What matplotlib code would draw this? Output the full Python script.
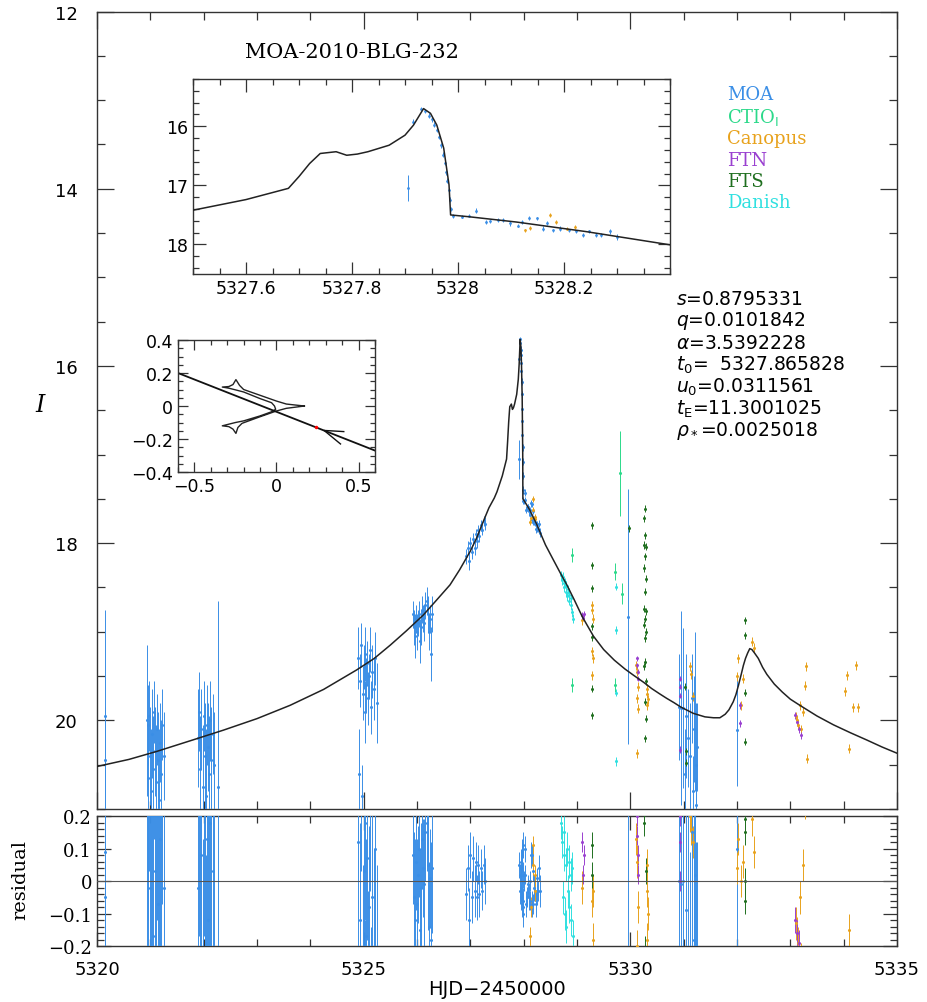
import matplotlib
matplotlib.use("Agg")
import matplotlib.pyplot as plt
from matplotlib.ticker import MultipleLocator

## Model light curve (HJD-2450000, I mag)
model_t = [5320.00, 5320.60, 5321.12, 5321.80, 5322.37, 5323.00, 5323.62, 5324.25,
           5324.87, 5325.20, 5325.50, 5325.80, 5326.12, 5326.40, 5326.62, 5326.80,
           5327.00, 5327.12, 5327.24, 5327.35, 5327.45, 5327.50,
           5327.60, 5327.68, 5327.70, 5327.72, 5327.74, 5327.77, 5327.79, 5327.81,
           5327.83, 5327.87, 5327.90, 5327.916, 5327.935, 5327.948, 5327.96, 5327.973,
           5327.983, 5327.986, 5328.02, 5328.11, 5328.24, 5328.41, 5328.55, 5328.70,
           5328.81, 5328.95, 5329.10, 5329.31, 5329.50, 5329.70, 5329.90, 5330.06,
           5330.25, 5330.40, 5330.55, 5330.68, 5330.82, 5330.95, 5331.18, 5331.40,
           5331.56, 5331.68, 5331.78, 5331.85, 5331.93, 5331.98, 5332.03, 5332.08,
           5332.12, 5332.16, 5332.20, 5332.24, 5332.28, 5332.33, 5332.40, 5332.48,
           5332.56, 5332.70, 5332.85, 5333.00, 5333.18, 5333.50, 5333.81,
           5334.13, 5334.43, 5334.72, 5335.00]
model_mag = [20.52, 20.44, 20.35, 20.22, 20.11, 19.98, 19.83, 19.65,
             19.43, 19.30, 19.15, 18.99, 18.81, 18.62, 18.47, 18.30,
             18.09, 17.94, 17.76, 17.60, 17.49, 17.42,
             17.24, 17.05, 16.85, 16.63, 16.46, 16.43, 16.49, 16.47,
             16.43, 16.32, 16.15, 15.98, 15.70, 15.78, 15.98, 16.37,
             16.99, 17.50, 17.53, 17.62, 17.78, 18.02, 18.18, 18.35,
             18.47, 18.64, 18.83, 19.05, 19.20, 19.32, 19.42, 19.49,
             19.57, 19.64, 19.70, 19.75, 19.80, 19.85, 19.92, 19.96,
             19.97, 19.97, 19.93, 19.88, 19.79, 19.71, 19.60, 19.48,
             19.38, 19.30, 19.24, 19.19, 19.20, 19.24, 19.30, 19.40,
             19.48, 19.59, 19.68, 19.76, 19.83, 19.95, 20.05,
             20.14, 20.22, 20.30, 20.37]

## MOA
moa_t = [5320.15, 5320.15,
         5320.93, 5320.95, 5320.96, 5320.98, 5321.00, 5321.02, 5321.03, 5321.05, 5321.07,
         5321.09, 5321.10, 5321.12, 5321.14, 5321.16, 5321.18, 5321.20, 5321.22, 5321.25,
         5321.90, 5321.92, 5321.94, 5321.96, 5321.98, 5322.00, 5322.02, 5322.04,
         5322.06, 5322.08, 5322.10, 5322.12, 5322.14, 5322.17, 5322.20, 5322.27,
         5324.90, 5324.92, 5324.93, 5324.95, 5324.97, 5324.98, 5325.00, 5325.02, 5325.03, 5325.05,
         5325.07, 5325.08, 5325.10, 5325.12, 5325.14, 5325.16, 5325.19, 5325.22, 5325.26,
         5325.92, 5325.94, 5325.96, 5325.98, 5326.00, 5326.02, 5326.04, 5326.06, 5326.08, 5326.10,
         5326.12, 5326.14, 5326.16, 5326.18, 5326.20, 5326.22, 5326.24, 5326.26, 5326.28,
         5326.92, 5326.95, 5326.98, 5327.00, 5327.03, 5327.05, 5327.08, 5327.10,
         5327.12, 5327.15, 5327.17, 5327.20, 5327.22, 5327.25, 5327.28,
         5327.905, 5327.916, 5327.930, 5327.938, 5327.945, 5327.950, 5327.955, 5327.960, 5327.964,
         5327.968, 5327.972, 5327.975, 5327.978, 5327.980, 5327.983, 5327.985, 5327.987, 5327.990,
         5328.008, 5328.020, 5328.034, 5328.053, 5328.060, 5328.075, 5328.085, 5328.098,
         5328.114, 5328.120, 5328.133, 5328.149, 5328.160, 5328.168, 5328.180, 5328.193,
         5328.210, 5328.222, 5328.235, 5328.248, 5328.260, 5328.270, 5328.286, 5328.300,
         5329.96, 5330.92, 5330.96, 5330.98, 5331.02, 5331.05, 5331.09, 5331.12,
         5331.15, 5331.18, 5331.20, 5331.22, 5331.24, 5331.24, 5331.25,
         5332.00]
moa_mag = [19.95, 20.45,
           20.00, 20.05, 20.65, 19.95, 20.40, 20.80, 20.15, 20.55, 19.90,
           20.35, 20.70, 20.10, 20.45, 20.90, 20.25, 20.60, 20.05, 20.40,
           20.20, 19.90, 20.55, 20.10, 20.75, 19.95, 20.40, 20.85,
           20.05, 20.30, 20.60, 20.00, 20.45, 20.15, 20.50, 20.75,
           19.30, 20.60, 19.55, 19.15, 20.85, 19.70, 19.40, 19.25, 19.90, 19.60,
           19.35, 19.75, 19.50, 19.20, 19.85, 19.45, 19.65, 19.30, 19.80,
           18.80, 18.95, 19.05, 18.85, 19.00, 18.90, 18.80, 19.10, 18.95, 18.75,
           18.85, 18.90, 18.70, 18.65, 18.80, 19.00, 18.85, 19.25, 18.80,
           18.15, 18.05, 18.20, 18.00, 18.10, 17.95, 18.05, 17.90,
           17.98, 17.85, 17.92, 17.80, 17.85, 17.75, 17.78,
           17.05, 15.92, 15.70, 15.74, 15.82, 15.88, 15.97, 16.06, 16.18,
           16.32, 16.48, 16.62, 16.78, 16.92, 17.08, 17.24, 17.40, 17.52,
           17.53, 17.51, 17.43, 17.62, 17.61, 17.59, 17.59, 17.64,
           17.68, 17.62, 17.55, 17.56, 17.73, 17.64, 17.76, 17.73,
           17.76, 17.78, 17.84, 17.78, 17.84, 17.84, 17.78, 17.88,
           18.83, 19.85, 19.86, 19.86, 20.60, 19.95, 20.20, 20.40,
           19.75, 20.80, 20.10, 19.90, 20.50, 20.95, 20.30,
           20.11]
moa_err = [1.20, 0.60,
           0.85, 0.45, 0.60, 0.40, 0.55, 0.70, 0.50, 0.60, 0.35,
           0.50, 0.65, 0.40, 0.55, 0.80, 0.45, 0.60, 0.40, 0.50,
           0.55, 0.45, 0.60, 0.45, 0.70, 0.40, 0.60, 0.75,
           0.45, 0.50, 0.65, 0.45, 0.60, 0.45, 0.60, 2.10,
           0.35, 0.50, 0.30, 0.25, 0.35, 0.30, 0.25, 0.30, 0.35, 0.30,
           0.25, 0.30, 0.25, 0.25, 0.30, 0.30, 0.35, 0.30, 0.45,
           0.15, 0.20, 0.25, 0.15, 0.20, 0.15, 0.15, 0.25, 0.20, 0.15,
           0.15, 0.20, 0.15, 0.15, 0.20, 0.20, 0.15, 0.30, 0.20,
           0.08, 0.07, 0.10, 0.07, 0.08, 0.07, 0.08, 0.06,
           0.07, 0.06, 0.07, 0.06, 0.06, 0.06, 0.07,
           0.22, 0.04, 0.03, 0.04, 0.04, 0.04, 0.04, 0.04, 0.04,
           0.04, 0.04, 0.04, 0.04, 0.04, 0.04, 0.04, 0.04, 0.04,
           0.03, 0.03, 0.04, 0.04, 0.03, 0.03, 0.03, 0.04,
           0.03, 0.03, 0.04, 0.03, 0.04, 0.03, 0.03, 0.04,
           0.03, 0.03, 0.04, 0.03, 0.03, 0.03, 0.04, 0.05,
           1.44, 0.60, 1.10, 0.90, 0.50, 0.70, 0.55, 0.60,
           0.50, 0.40, 0.60, 0.90, 0.70, 0.30, 0.50,
           0.63]
moa_res = [0.09, -0.05,
           0.38, 0.33, -0.27, 0.43, -0.02, -0.42, 0.23, -0.17, 0.48,
           0.03, -0.32, 0.28, -0.07, -0.52, 0.13, -0.22, 0.33, -0.02,
           -0.02, 0.28, -0.37, 0.08, -0.57, 0.23, -0.22, -0.67,
           0.13, -0.12, -0.42, 0.18, -0.27, 0.03, -0.32, -0.57,
           0.12, -1.15, -0.12, 0.28, -1.40, -0.25, 0.03, 0.18, -0.47, -0.17,
           0.07, -0.33, -0.08, 0.22, -0.44, -0.05, -0.25, 0.10, -0.40,
           0.08, -0.05, -0.12, 0.06, -0.07, 0.02, 0.10, -0.15, -0.02, 0.13,
           0.04, -0.01, 0.15, 0.18, 0.05, -0.14, 0.01, -0.18, 0.04,
           -0.04, 0.04, -0.12, 0.08, -0.05, 0.07, -0.03, 0.06,
           -0.05, 0.05, -0.04, 0.04, -0.03, 0.05, 0.00,
           -0.95, 0.05, 0.02, -0.03, 0.04, -0.02, 0.06, -0.05, 0.03,
           -0.07, 0.08, -0.04, 0.09, -0.06, 0.02, -0.10, 0.11, -0.08,
           0.00, 0.02, 0.10, -0.07, -0.05, -0.02, -0.01, -0.05,
           -0.06, 0.00, 0.08, 0.08, -0.07, 0.03, -0.07, -0.02,
           -0.03, -0.03, -0.07, 0.01, -0.04, -0.03, 0.04, -0.03,
           0.62, 0.00, -0.01, 0.00, -0.74, -0.09, -0.32, -0.51,
           0.15, -0.89, -0.18, 0.02, -0.58, -1.03, -0.38,
           0.10]

## CTIO (I band)
ctio_t = [5328.90, 5328.90, 5329.71, 5329.71, 5329.81, 5329.84]
ctio_mag = [18.13, 19.60, 18.32, 19.60, 17.21, 18.57]
ctio_err = [0.08, 0.08, 0.10, 0.08, 0.48, 0.12]
ctio_res = [0.42, -1.05, 1.03, -0.30, 2.20, 0.80]

## Canopus
can_t = [5328.127, 5328.135, 5328.174, 5328.184, 5328.206, 5328.220,
         5329.28, 5329.29, 5329.30, 5329.29, 5329.30, 5329.29, 5329.10,
         5330.10, 5330.12, 5330.14, 5330.13, 5330.15, 5330.12,
         5330.31, 5330.32, 5330.33, 5330.31,
         5331.12, 5331.14, 5331.17,
         5332.02, 5332.01, 5332.12, 5332.07, 5332.29, 5332.32,
         5333.10, 5333.15, 5333.20, 5333.18, 5333.30, 5333.28, 5333.31, 5333.13, 5333.23,
         5334.06, 5334.23, 5334.03, 5334.18, 5334.27, 5334.11]
can_mag = [17.76, 17.72, 17.50, 17.62, 17.73, 17.70,
           18.70, 18.75, 18.85, 19.22, 19.30, 19.49, 18.87,
           19.38, 19.45, 19.62, 19.75, 19.87, 20.37,
           19.64, 19.70, 19.76, 19.83,
           19.39, 19.48, 19.73,
           19.30, 19.50, 19.53, 19.83, 19.11, 19.18,
           19.95, 20.05, 20.10, 19.83, 19.39, 19.61, 20.43, 20.00, 19.90,
           19.49, 19.38, 19.67, 19.85, 19.85, 20.32]
can_err = [0.03, 0.03, 0.03, 0.03, 0.03, 0.03,
           0.05, 0.05, 0.05, 0.05, 0.05, 0.05, 0.05,
           0.05, 0.05, 0.05, 0.05, 0.05, 0.05,
           0.05, 0.05, 0.05, 0.05,
           0.05, 0.05, 0.05,
           0.05, 0.05, 0.05, 0.05, 0.05, 0.05,
           0.05, 0.05, 0.05, 0.05, 0.05, 0.05, 0.05, 0.05, 0.05,
           0.05, 0.05, 0.05, 0.05, 0.05, 0.05]
can_res = [-0.17, -0.08, 0.11, 0.05, -0.03, 0.02,
           0.34, 0.29, -0.03, -0.06, -0.18, -0.45, -0.02,
           0.13, 0.06, -0.08, -0.20, -0.32, -0.85,
           0.05, -0.03, -0.10, -0.18,
           0.20, 0.16, 0.12,
           0.13, 0.04, 0.06, 0.00, 0.19, 0.09,
           -0.13, -0.19, -0.24, -0.05, 0.45, 0.24, -0.55, -0.16, 0.05,
           0.62, 0.75, 0.44, 0.28, 0.30, -0.15]

## FTN
ftn_t = [5329.09, 5329.11, 5329.13, 5330.12, 5330.13, 5330.14, 5330.15,
         5330.93, 5330.93, 5330.94, 5330.93, 5332.05, 5332.05,
         5333.08, 5333.12, 5333.16, 5333.20]
ftn_mag = [18.81, 18.84, 18.80, 19.30, 19.38, 19.45, 19.53,
           19.53, 19.62, 19.72, 20.33, 19.83, 20.03,
           19.94, 20.02, 20.10, 20.17]
ftn_err = [0.03, 0.03, 0.03, 0.03, 0.03, 0.03, 0.03,
           0.03, 0.03, 0.03, 0.04, 0.04, 0.04,
           0.04, 0.04, 0.04, 0.04]
ftn_res = [0.12, 0.02, 0.08, 0.20, 0.14, 0.08, 0.02,
           0.20, 0.12, 0.00, -0.48, -0.33, -0.53,
           -0.12, -0.16, -0.19, -0.24]

## FTS
fts_t = [5329.29, 5329.29, 5329.29, 5329.29, 5329.29, 5329.29, 5329.29,
         5329.98,
         5330.27, 5330.26, 5330.28, 5330.25, 5330.30, 5330.27, 5330.26, 5330.29, 5330.27, 5330.25,
         5330.30, 5330.28, 5330.26, 5330.29, 5330.27, 5330.28, 5330.26, 5330.30, 5330.27, 5330.29,
         5330.28,
         5331.03, 5331.05, 5331.05,
         5332.15, 5332.16, 5332.16, 5332.15]
fts_mag = [17.80, 18.25, 18.51, 18.94, 19.06, 19.64, 19.94,
           17.83,
           17.61, 17.72, 17.91, 18.02, 18.04, 18.15, 18.28, 18.40, 18.55, 18.74,
           18.77, 18.85, 18.92, 19.00, 19.07, 19.34, 19.39, 19.56, 19.79, 19.98,
           20.20,
           19.62, 20.35, 20.48,
           18.87, 19.04, 19.69, 20.24]
fts_err = [0.04] * 36
fts_res = [1.24, 0.79, 0.53, 0.11, 0.02, -0.60, -0.90,
           1.60,
           1.97, 1.86, 1.67, 1.56, 1.54, 1.43, 1.30, 1.18, 1.03, 0.84,
           0.81, 0.73, 0.66, 0.58, 0.51, 0.24, 0.18, 0.03, -0.21, -0.40,
           -0.62,
           0.26, -0.47, -0.60,
           0.19, 0.15, 0.00, -0.06]

## Danish
dan_t = [5328.70, 5328.72, 5328.73, 5328.75, 5328.76, 5328.78, 5328.79, 5328.80,
         5328.82, 5328.83, 5328.85, 5328.86, 5328.88, 5328.89, 5328.91, 5328.93,
         5329.73, 5329.74, 5329.74, 5329.74]
dan_mag = [18.36, 18.42, 18.38, 18.45, 18.50, 18.44, 18.55, 18.48,
           18.60, 18.52, 18.65, 18.58, 18.70, 18.62, 18.78, 18.85,
           18.49, 18.98, 19.69, 20.46]
dan_err = [0.05] * 16 + [0.04, 0.04, 0.04, 0.05]
dan_res = [0.18, 0.12, -0.05, 0.08, 0.15, -0.10, 0.05, -0.14,
           0.10, -0.03, 0.06, -0.08, 0.02, -0.12, 0.04, -0.17,
           0.88, 0.39, -0.32, -1.09]

## Caustic / source trajectory (inset, Einstein radius units)
caustic_x = [0.17, 0.06, 0.0, -0.10, -0.20, -0.225, -0.247, -0.265, -0.29, -0.33,
             -0.29, -0.25, -0.20, -0.10, -0.03, -0.012, -0.005, -0.03, -0.10, -0.20,
             -0.25, -0.29, -0.33, -0.29, -0.265, -0.247, -0.235, -0.21, -0.10, 0.0, 0.06, 0.17]
caustic_y = [0.0, 0.012, 0.03, 0.065, 0.10, 0.125, 0.16, 0.13, 0.118, 0.115,
             0.108, 0.098, 0.085, 0.045, 0.02, 0.0, -0.02, -0.035, -0.06, -0.09,
             -0.10, -0.11, -0.12, -0.125, -0.14, -0.166, -0.13, -0.105, -0.065, -0.03, -0.014, 0.0]
traj_x = [-0.6, 0.6]
traj_y = [0.20, -0.27]
arrow_x = [0.41, 0.29, 0.39]
arrow_y = [-0.155, -0.148, -0.23]
source_x = [0.24]
source_y = [-0.13]

telescopes = [
    ("MOA", "#3a8ee6", moa_t, moa_mag, moa_err, moa_res),
    ("CTIO$_{\\rm I}$", "#2bd98a", ctio_t, ctio_mag, ctio_err, ctio_res),
    ("Canopus", "#e8a21c", can_t, can_mag, can_err, can_res),
    ("FTN", "#9a40d0", ftn_t, ftn_mag, ftn_err, ftn_res),
    ("FTS", "#1f6f1f", fts_t, fts_mag, fts_err, fts_res),
    ("Danish", "#2fe0e0", dan_t, dan_mag, dan_err, dan_res),
]

frame_col = "#333333"


def style_axes(ax, major_len, minor_len, size):
    for sp in ax.spines.values():
        sp.set_color(frame_col)
        sp.set_linewidth(1.0)
    ax.tick_params(which="both", direction="in", top=True, right=True, colors=frame_col,
                   labelcolor="black", width=0.9)
    ax.tick_params(which="major", length=major_len, labelsize=size)
    ax.tick_params(which="minor", length=minor_len)


def draw_points(ax, t, y, err, color, ms=2.2):
    ax.errorbar(t, y, yerr=err, fmt="o", color=color, ms=ms, mew=0,
                elinewidth=0.7, capsize=1.5, capthick=0.7, zorder=3)


fig = plt.figure(figsize=(9.27, 10.03), dpi=100)

## Main light curve panel
ax = fig.add_axes([0.1046, 0.1924, 0.8630, 0.7951])
for name, col, t, m, e, r in telescopes:
    draw_points(ax, t, m, e, col)
ax.plot(model_t, model_mag, color="#222222", lw=1.1, zorder=4)
ax.set_xlim(5320, 5335)
ax.set_ylim(21.0, 12.0)
ax.xaxis.set_major_locator(MultipleLocator(5))
ax.xaxis.set_minor_locator(MultipleLocator(1))
ax.yaxis.set_major_locator(MultipleLocator(2))
ax.yaxis.set_minor_locator(MultipleLocator(0.5))
ax.set_xticklabels([])
style_axes(ax, 12, 6, 13)
ax.tick_params(axis="y", pad=14)

## Residual panel
axr = fig.add_axes([0.1046, 0.0558, 0.8630, 0.1296])
for name, col, t, m, e, r in telescopes:
    draw_points(axr, t, r, e, col)
axr.axhline(0, color="#555555", lw=0.8, zorder=4)
axr.set_xlim(5320, 5335)
axr.set_ylim(-0.2, 0.2)
axr.xaxis.set_major_locator(MultipleLocator(5))
axr.xaxis.set_minor_locator(MultipleLocator(1))
axr.yaxis.set_minor_locator(MultipleLocator(0.02))
style_axes(axr, 10, 5, 13)
axr.tick_params(axis="x", pad=10)
axr.set_yticks([-0.2, -0.1, 0, 0.1, 0.2])
axr.set_yticklabels(["\u22120.2", "\u22120.1", "0", "0.1", "0.2"], family="DejaVu Serif")

## Inset: zoom of the peak
ax1 = fig.add_axes([0.2082, 0.7258, 0.5146, 0.1944])
for name, col, t, m, e, r in telescopes:
    draw_points(ax1, t, m, e, col, ms=2.0)
ax1.plot(model_t, model_mag, color="#222222", lw=1.1, zorder=4)
ax1.set_xlim(5327.5, 5328.4)
ax1.set_ylim(18.5, 15.2)
ax1.xaxis.set_minor_locator(MultipleLocator(0.05))
ax1.yaxis.set_major_locator(MultipleLocator(1))
ax1.yaxis.set_minor_locator(MultipleLocator(0.2))
ax1.set_xticks([5327.6, 5327.8, 5328.0, 5328.2])
ax1.set_xticklabels(["5327.6", "5327.8", "5328", "5328.2"])
style_axes(ax1, 9, 4.5, 12.5)

## Inset: caustic geometry
ax2 = fig.add_axes([0.1920, 0.5284, 0.2125, 0.1316])
ax2.plot(caustic_x, caustic_y, color="#222222", lw=1.0)
ax2.plot(traj_x, traj_y, color="#111111", lw=1.3)
ax2.plot(arrow_x, arrow_y, color="#111111", lw=1.0)
ax2.plot(source_x, source_y, "o", color="red", ms=2.5, mew=0, zorder=5)
ax2.set_xlim(-0.6, 0.6)
ax2.set_ylim(-0.4, 0.4)
ax2.xaxis.set_minor_locator(MultipleLocator(0.1))
ax2.yaxis.set_minor_locator(MultipleLocator(0.05))
ax2.set_xticks([-0.5, 0, 0.5])
ax2.set_xticklabels(["\u22120.5", "0", "0.5"])
ax2.set_yticks([-0.4, -0.2, 0, 0.2, 0.4])
ax2.set_yticklabels(["\u22120.4", "\u22120.2", "0", "0.2", "0.4"])
style_axes(ax2, 7, 3.5, 12.5)

## Labels and annotations
fig.text(0.380, 0.948, "MOA-2010-BLG-232", family="DejaVu Serif", fontsize=15,
         ha="center", va="center")
leg_y = [0.905, 0.883, 0.8614, 0.8395, 0.8185, 0.7976]
for (name, col, t, m, e, r), yy in zip(telescopes, leg_y):
    fig.text(0.784, yy, name, color=col, family="DejaVu Serif", fontsize=13,
             ha="left", va="center")

params = [r"$s$=0.8795331", r"$q$=0.0101842", r"$\alpha$=3.5392228",
          r"$t_0$=  5327.865828", r"$u_0$=0.0311561", r"$t_{\rm E}$=11.3001025",
          r"$\rho_*$=0.0025018"]
par_y = [0.7009, 0.6800, 0.6580, 0.6361, 0.6142, 0.5922, 0.5703]
for txt, yy in zip(params, par_y):
    fig.text(0.729, yy, txt, fontsize=13.5, ha="left", va="center")

fig.text(0.043, 0.596, "I", family="DejaVu Serif", style="italic", fontsize=17,
         ha="center", va="center")
fig.text(0.022, 0.1226, "residual", family="DejaVu Serif", fontsize=14, rotation=90,
         ha="center", va="center")
fig.text(0.536, 0.013, "HJD\u22122450000", fontsize=14, ha="center", va="center")

fig.savefig("out.png", dpi=100)
